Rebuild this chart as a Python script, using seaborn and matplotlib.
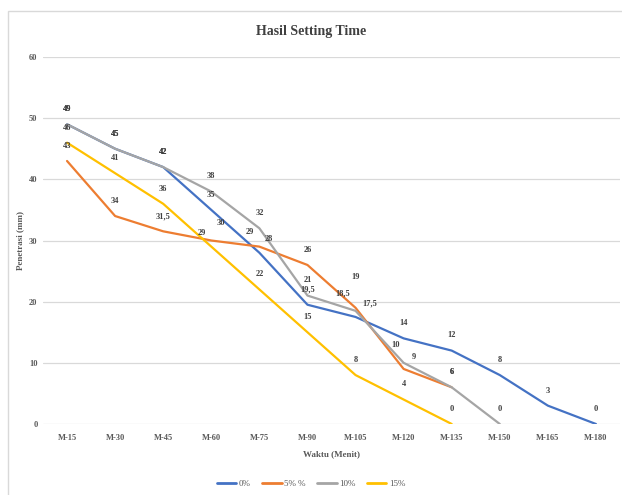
import numpy as np
import pandas as pd
import matplotlib.pyplot as plt
import seaborn as sns
from matplotlib.patches import Rectangle

waktu = ['M-15', 'M-30', 'M-45', 'M-60', 'M-75', 'M-90', 'M-105',
         'M-120', 'M-135', 'M-150', 'M-165', 'M-180']
nan = np.nan
p0 = [49, 45, 42, 35, 28, 19.5, 17.5, 14, 12, 8, 3, 0]
p5 = [43, 34, 31.5, 30, 29, 26, 19, 9, 6, nan, nan, nan]
p10 = [49, 45, 42, 38, 32, 21, 18.5, 10, 6, 0, nan, nan]
p15 = [46, 41, 36, 29, 22, 15, 8, 4, 0, nan, nan, nan]
series = ['0%', '5% %', '10%', '15%']
colors = ['#4472C4', '#ED7D31', '#A5A5A5', '#FFC000']

rows = []
for name, vals in zip(series, [p0, p5, p10, p15]):
    for i, v in enumerate(vals):
        rows.append({'idx': i, 'waktu': waktu[i], 'nilai': v, 'seri': name})
df = pd.DataFrame(rows)

sns.set_style('white')
plt.rcParams['font.family'] = ['Liberation Serif', 'DejaVu Serif']

fig = plt.figure(figsize=(6.22, 4.95), dpi=100)
ax = fig.add_axes([43 / 622, 1 - 424 / 495, (620 - 43) / 622, (424 - 57) / 495])

sns.lineplot(data=df.dropna(), x='idx', y='nilai', hue='seri', hue_order=series,
             palette=colors, linewidth=1.6, ax=ax, legend=False, sort=False)


def fmt(v):
    return f'{v:g}'.replace('.', ',')


# small nudges (points) where labels sit on top of each other
nudge = {
    ('5% %', 3): (7, 2), ('15%', 3): (-7, -1),
    ('5% %', 4): (-7, 0), ('0%', 4): (7, -1),
    ('5% %', 6): (0, 11), ('10%', 6): (-9, 2), ('0%', 6): (10, -1),
    ('10%', 7): (-6, 2), ('5% %', 7): (7, -2),
}

for name, vals, c in zip(series, [p0, p5, p10, p15], colors):
    for i, v in enumerate(vals):
        if np.isnan(v):
            continue
        dx, dy = nudge.get((name, i), (0, 0))
        ax.annotate(fmt(v), (i, v), xytext=(dx, 8 + dy), textcoords='offset points',
                    ha='center', va='bottom', fontsize=6, color='#404040',
                    fontweight='bold')

ax.set_xlim(-0.5, len(waktu) - 0.5)
ax.set_ylim(0, 60)
ax.set_yticks(range(0, 61, 10))
ax.set_xticks(range(len(waktu)))
ax.set_xticklabels(waktu)
ax.tick_params(axis='both', labelsize=6, colors='#595959', length=0)
for lab in ax.get_xticklabels() + ax.get_yticklabels():
    lab.set_fontweight('bold')
ax.tick_params(axis='x', pad=7)
ax.tick_params(axis='y', pad=4)
ax.grid(axis='y', color='#D9D9D9', linewidth=0.9)
ax.set_axisbelow(True)
for s in ax.spines.values():
    s.set_visible(False)

ax.set_xlabel('Waktu (Menit)', fontsize=6.5, color='#595959', fontweight='bold', labelpad=6)
ax.set_ylabel('Penetrasi (mm)', fontsize=6.5, color='#595959', fontweight='bold')
ax.yaxis.set_label_coords(-19 / 577, 0.5)

fig.text(0.5, 1 - 32 / 495, 'Hasil Setting Time', ha='center', va='center',
         fontsize=10, color='#404040', fontweight='bold')

# legend
handles = [plt.Line2D([], [], color=c, linewidth=2) for c in colors]
fig.legend(handles, series, loc='center', bbox_to_anchor=(0.5, 1 - 484 / 495),
           ncol=4, frameon=False, fontsize=6.5, handlelength=2.2,
           handletextpad=0.3, columnspacing=1.2, labelcolor='#595959')

# chart border
fig.patches.append(Rectangle((8 / 622, -0.1), 1.2, 1 - 11 / 495 + 0.1,
                             transform=fig.transFigure, fill=False,
                             edgecolor='#D9D9D9', linewidth=1))

fig.savefig('out.png', dpi=100)
